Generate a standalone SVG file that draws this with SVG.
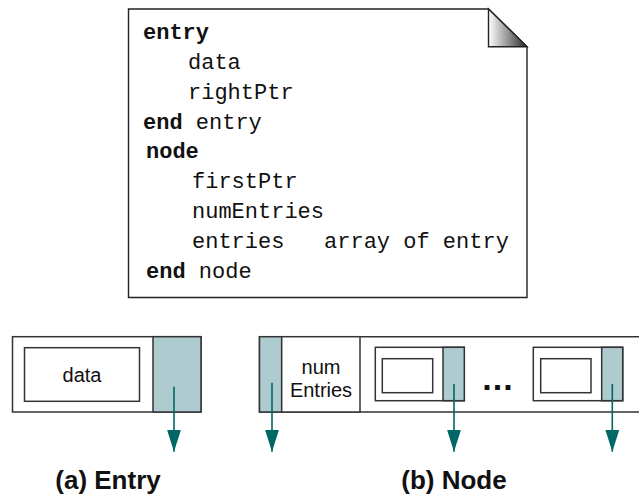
<svg xmlns="http://www.w3.org/2000/svg" width="639" height="494" viewBox="0 0 639 494">
<defs>
<linearGradient id="fold" x1="0" y1="0" x2="1" y2="0">
<stop offset="0" stop-color="#ffffff"/>
<stop offset="1" stop-color="#2a2a2a"/>
</linearGradient>
<marker id="ah" markerUnits="userSpaceOnUse" markerWidth="22" markerHeight="14" viewBox="0 0 22 14" refX="22" refY="7" orient="auto">
<path d="M0,0 L22,7 L0,14 Z" fill="#006767"/>
</marker>
<style>
.box{fill:#ffffff;stroke:#333333;stroke-width:1.5}
.ptr{fill:#aecbcf;stroke:#333333;stroke-width:1.5}
.arr{stroke:#006767;stroke-width:1.6;fill:none}
.code{font-family:"Liberation Mono","Courier New",monospace;font-size:22px;fill:#111111}
.kw{font-weight:bold}
.lbl{font-family:"Liberation Sans",Arial,sans-serif;font-size:20px;fill:#111111;text-anchor:middle}
.cap{font-family:"Liberation Sans",Arial,sans-serif;font-size:26px;font-weight:bold;fill:#111111;text-anchor:middle}
</style>
</defs>

<g id="document">
<path d="M128.5,9 H488.5 L527,46.7 V297.5 H128.5 Z" fill="#ffffff" stroke="#222222" stroke-width="1.4"/>
<path d="M488.5,9 V46.7 H527 Z" fill="url(#fold)" stroke="#222222" stroke-width="1.4"/>
<text class="code" x="143" y="39"><tspan class="kw">entry</tspan></text>
<text class="code" x="188" y="69">data</text>
<text class="code" x="188" y="99">rightPtr</text>
<text class="code" x="143" y="129"><tspan class="kw">end</tspan> entry</text>
<text class="code" x="146" y="158"><tspan class="kw">node</tspan></text>
<text class="code" x="192" y="188">firstPtr</text>
<text class="code" x="192" y="218">numEntries</text>
<text class="code" x="192" y="248" xml:space="preserve">entries   array of entry</text>
<text class="code" x="146" y="278"><tspan class="kw">end</tspan> node</text>
</g>

<g id="entry">
<rect class="box" x="12.5" y="336.7" width="188.5" height="75.3"/>
<rect class="box" x="24.5" y="347.7" width="115" height="53.6"/>
<rect class="ptr" x="153" y="336.7" width="48" height="75.3"/>
<text class="lbl" x="82" y="382">data</text>
</g>

<g id="node">
<path d="M639,336.7 H259.5 V412 H639" fill="#ffffff" stroke="#333333" stroke-width="1.5"/>
<rect class="ptr" x="259.5" y="336.7" width="22.2" height="75.3"/>
<rect class="box" x="281.7" y="336.7" width="78.3" height="75.3"/>
<text class="lbl" x="321" y="374">num</text>
<text class="lbl" x="321" y="397">Entries</text>
<rect class="box" x="375.3" y="347.3" width="89" height="53.4"/>
<rect class="box" x="382.3" y="358.7" width="50.4" height="34"/>
<rect class="ptr" x="443" y="347.3" width="21.3" height="53.4"/>
<text x="498" y="389.5" font-family="Liberation Sans,Arial,sans-serif" font-size="34" font-weight="bold" letter-spacing="1" text-anchor="middle" fill="#111111">...</text>
<rect class="box" x="533.3" y="347.3" width="89.4" height="53.4"/>
<rect class="box" x="540.7" y="358.7" width="50.3" height="34"/>
<rect class="ptr" x="601.7" y="347.3" width="21" height="53.4"/>
</g>

<g id="connectors">
<line class="arr" x1="174" y1="386.7" x2="174" y2="451.7" marker-end="url(#ah)"/>
<line class="arr" x1="272" y1="382.7" x2="272" y2="451.7" marker-end="url(#ah)"/>
<line class="arr" x1="454" y1="384" x2="454" y2="451.7" marker-end="url(#ah)"/>
<line class="arr" x1="612.3" y1="384" x2="612.3" y2="451.7" marker-end="url(#ah)"/>
</g>

<g id="captions">
<text class="cap" x="108" y="489">(a) Entry</text>
<text class="cap" x="454" y="489">(b) Node</text>
</g>
</svg>
